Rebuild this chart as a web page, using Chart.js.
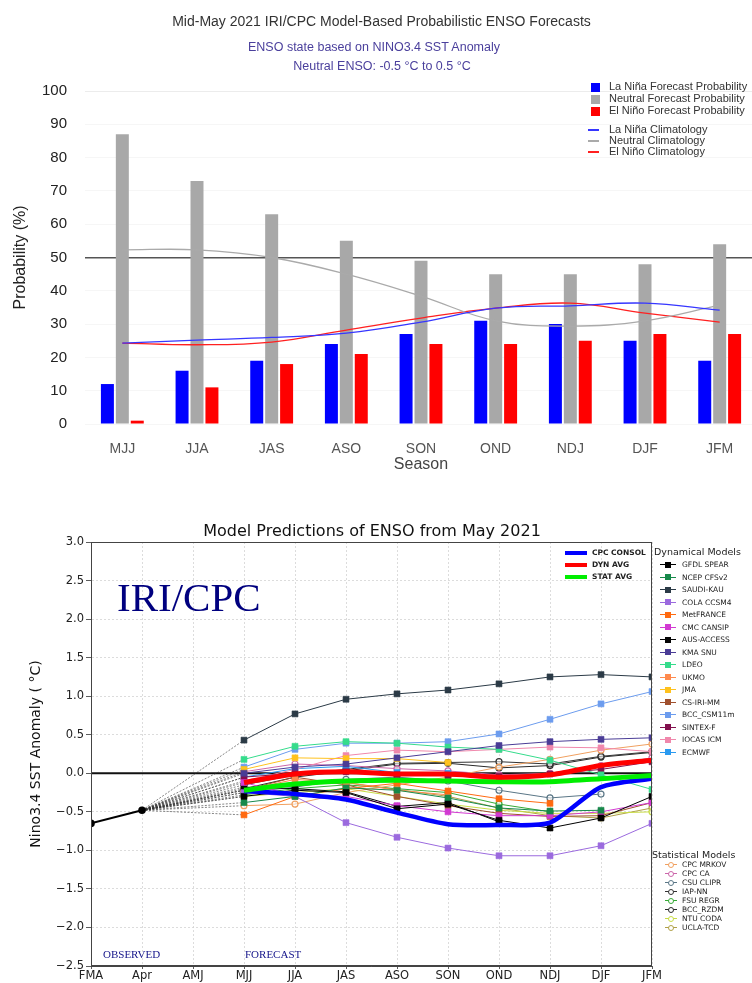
<!DOCTYPE html>
<html>
<head>
<meta charset="utf-8">
<script src="https://cdn.jsdelivr.net/npm/chart.js@4.4.0/dist/chart.umd.min.js"></script>
<style>
  body { margin:0; width:752px; height:983px; overflow:hidden; background:#fff; position:relative; }
  .t { position:absolute; white-space:nowrap; }
  .top { font-family:'Liberation Sans',Arial,sans-serif; }
  .mpl { font-family:'DejaVu Sans',sans-serif; }
  .serif { font-family:'Liberation Serif','Times New Roman',serif; color:#14148a; }
  .leg-row { position:absolute; height:10px; }
  .leg-line { position:absolute; top:4px; height:1.4px; }
  .leg-sq { position:absolute; width:6px; height:6px; top:1.7px; }
  .leg-ci { position:absolute; width:4.5px; height:4.5px; top:1.5px; border-radius:50%; border:1.2px solid; background:#fff; }
</style>
</head>
<body>
<div id="top-wrap" style="position:absolute;left:0;top:0;width:758px;height:480px"><canvas id="prob-canvas" width="758" height="480"></canvas></div>
<div id="bot-wrap" style="position:absolute;left:0;top:505px;width:752px;height:478px"><canvas id="model-canvas" width="752" height="478"></canvas></div>

<div class="t top" style="left:0;width:763px;text-align:center;top:13px;font-size:14px;color:#333">Mid-May 2021 IRI/CPC Model-Based Probabilistic ENSO Forecasts</div>
<div class="t top" style="left:0;width:748px;text-align:center;top:40px;font-size:12.5px;color:#4a3f9c">ENSO state based on NINO3.4 SST Anomaly</div>
<div class="t top" style="left:0;width:764px;text-align:center;top:59px;font-size:12.5px;color:#4a3f9c">Neutral ENSO: -0.5 °C to 0.5 °C</div>

<div id="prob-legend" class="top"></div>

<div class="t mpl" style="left:0;width:744px;text-align:center;top:521px;font-size:16px;color:#111">Model Predictions of ENSO from May 2021</div>
<div class="t serif" style="left:117px;top:573px;font-size:41px;color:#00007f">IRI/CPC</div>
<div class="t serif" style="left:103px;top:948px;font-size:11px">OBSERVED</div>
<div class="t serif" style="left:245px;top:948px;font-size:11px">FORECAST</div>

<div id="avg-legend" class="mpl"></div>
<div id="dyn-legend" class="mpl"></div>
<div id="stat-legend" class="mpl"></div>

<script>
// ---- top panel: probabilities (%) ----
const seasons = ['MJJ','JJA','JAS','ASO','SON','OND','NDJ','DJF','JFM'];
const laNinaProb  = [12, 16, 19, 24, 27, 31, 30, 25, 19];
const neutralProb = [87, 73, 63, 55, 49, 45, 45, 48, 54];
const elNinoProb  = [ 1, 11, 18, 21, 24, 24, 25, 27, 27];
const laNinaClim  = [24.3, 25.2, 26.0, 27.3, 30.6, 34.8, 35.5, 36.3, 34.2];
const neutralClim = [52.3, 52.3, 50.0, 45.0, 38.4, 31.0, 29.4, 31.0, 35.7];
const elNinoClim  = [24.3, 23.8, 24.6, 28.2, 31.8, 34.8, 36.3, 33.3, 30.6];

// ---- bottom panel: Nino3.4 anomaly (deg C) ----
const months = ['FMA','Apr','AMJ','MJJ','JJA','JAS','ASO','SON','OND','NDJ','DJF','JFM'];
const observed = [-0.65, -0.48];
const firstForecast = 3; // MJJ

const gfdlSpear = [-0.30, -0.22, -0.25, -0.46, -0.40, -0.61, -0.71, -0.58, -0.30];
const ncepCfsv2 = [-0.38, -0.30, -0.19, -0.22, -0.32, -0.45, -0.49, -0.48, null];
const saudiKau  = [ 0.43,  0.77,  0.96,  1.03,  1.08,  1.16,  1.25,  1.28,  1.25];
const colaCcsm4 = [-0.25, -0.30, -0.64, -0.83, -0.97, -1.07, -1.07, -0.94, -0.65];
const metFrance = [-0.54, -0.30, -0.20, -0.13, -0.23, -0.33, -0.39, null, null];
const cmcCansip = [-0.12, -0.29, -0.30, -0.42, -0.50, -0.55, -0.55, -0.50, -0.38];
const ausAccess = [-0.18, -0.20, -0.24, -0.43, -0.38, -0.63, null, null, null];
const kmaSnu    = [ 0.00,  0.08,  0.12,  0.20,  0.28,  0.36,  0.41,  0.44,  0.46];
const ldeo      = [ 0.18,  0.35,  0.41,  0.39,  0.34,  0.31,  0.17, -0.02, -0.21];
const ukmo      = [-0.22, -0.08, -0.12, -0.22, -0.28, null, null, null, null];
const jma       = [ 0.05,  0.20,  0.19,  0.19,  0.14, null, null, null, null];
const csIriMm   = [-0.22, -0.05, -0.15, -0.30, -0.42, -0.52, -0.56, -0.55, -0.38];
const bccCsm11m = [ 0.08,  0.31,  0.39,  0.39,  0.41,  0.51,  0.70,  0.90,  1.06];
const sintexF   = [-0.05,  0.00,  0.02, -0.02, -0.03, -0.04, -0.01,  0.05,  0.15];
const iocasIcm  = [-0.10,  0.05,  0.23,  0.30,  0.28,  0.31,  0.34,  0.33,  0.28];
const ecmwf     = [-0.05,  0.06,  0.09,  0.01,  0.00, null, null, null, null];

const cpcMrkov  = [-0.42, -0.40, -0.25, -0.15, -0.05,  0.08,  0.18,  0.30,  0.38];
const cpcCa     = [ 0.02,  0.12,  0.10,  0.06,  0.03, -0.02,  0.00,  0.10,  0.20];
const csuClipr  = [-0.25, -0.18, -0.08, -0.05, -0.10, -0.22, -0.32, -0.27, null];
const iapNn     = [-0.15, -0.02,  0.05,  0.13,  0.14,  0.15,  0.12,  0.22,  0.28];
const fsuRegr   = [-0.28, -0.20, -0.15, -0.20, -0.25, -0.40, -0.50, null, null];
const bccRzdm   = [-0.20, -0.05,  0.03,  0.12,  0.13,  0.07,  0.10,  0.21,  0.27];
const ntuCoda   = [-0.30, -0.25, -0.20, -0.30, -0.40, -0.48, -0.52, -0.52, -0.50];
const uclaTcd   = [-0.22, -0.15, -0.12, -0.21, -0.30, -0.45, -0.55, -0.58, -0.45];

const cpcConsol = [-0.23, -0.27, -0.34, -0.51, -0.66, -0.67, -0.64, -0.18, -0.07];
const dynAvg    = [-0.12, -0.01,  0.02, -0.01, -0.01, -0.05, -0.02,  0.10,  0.17];
const statAvg   = [-0.22, -0.14, -0.10, -0.09, -0.10, -0.11, -0.11, -0.07, -0.03];

const dynNames = ['GFDL SPEAR','NCEP CFSv2','SAUDI-KAU','COLA CCSM4','MetFRANCE','CMC CANSIP','AUS-ACCESS','KMA SNU','LDEO','UKMO','JMA','CS-IRI-MM','BCC_CSM11m','SINTEX-F','IOCAS ICM','ECMWF'];
const dynValues = [gfdlSpear,ncepCfsv2,saudiKau,colaCcsm4,metFrance,cmcCansip,ausAccess,kmaSnu,ldeo,ukmo,jma,csIriMm,bccCsm11m,sintexF,iocasIcm,ecmwf];
const statNames = ['CPC MRKOV','CPC CA','CSU CLIPR','IAP-NN','FSU REGR','BCC_RZDM','NTU CODA','UCLA-TCD'];
const statValues = [cpcMrkov,cpcCa,csuClipr,iapNn,fsuRegr,bccRzdm,ntuCoda,uclaTcd];
const avgNames = ['CPC CONSOL','DYN AVG','STAT AVG'];
const avgValues = [cpcConsol, dynAvg, statAvg];

// styles
const dynColors = ['#000000','#17894a','#2b3a46','#9b6ade','#ff6a10','#d23ad2','#050505','#4a3c96','#35dc8c','#ff8a4e','#ffc21e','#a0502e','#6c9cee','#82104e','#f088ac','#2a9af0'];
const statColors = ['#f0a060','#cc66aa','#5a7686','#333333','#36aa36','#2a2a2a','#c8dc46','#b0a048'];
const avgColors = ['#0000ff','#ff0000','#00ee00'];

// ================= top chart =================
const probCtx = document.getElementById('prob-canvas').getContext('2d');
const barStyle = { categoryPercentage:0.6, barPercentage:0.87, order:1 };
const climStyle = { type:'line', pointRadius:0, borderWidth:1.3, tension:0.4, fill:false, order:0 };
new Chart(probCtx, {
  type:'bar',
  data:{ labels:seasons, datasets:[
    {...climStyle, label:'La Niña Climatology', data:laNinaClim, borderColor:'#3636ff'},
    {...climStyle, label:'Neutral Climatology', data:neutralClim, borderColor:'#aaaaaa'},
    {...climStyle, label:'El Niño Climatology', data:elNinoClim, borderColor:'#ff2020'},
    {...barStyle, label:'La Niña Forecast Probability', data:laNinaProb, backgroundColor:'#0000ff'},
    {...barStyle, label:'Neutral Forecast Probability', data:neutralProb, backgroundColor:'#a8a8a8'},
    {...barStyle, label:'El Niño Forecast Probability', data:elNinoProb, backgroundColor:'#ff0000'}
  ]},
  options:{ responsive:false, animation:false,
    layout:{ padding:{ top:91, right:1, left:0, bottom:0 } },
    plugins:{ legend:{display:false}, tooltip:{enabled:false} },
    scales:{
      x:{ grid:{display:false}, border:{display:false},
          ticks:{ color:'#555', font:{family:'Liberation Sans', size:14}, padding:9 },
          title:{ display:true, text:'Season', color:'#444', font:{family:'Liberation Sans', size:16}, padding:{top:2, bottom:6} },
          afterFit:s=>{ s.height = 56; } },
      y:{ min:0, max:100, border:{display:false},
          ticks:{ stepSize:10, color:'#222', font:{family:'Liberation Sans', size:15}, padding:18 },
          grid:{ drawTicks:false, color:c=>c.tick.value===50?'#555':(c.tick.value===100?'#ececec':'#f6f6f6'), lineWidth:c=>c.tick.value===50?1.6:1 },
          title:{ display:true, text:'Probability (%)', color:'#222', font:{family:'Liberation Sans', size:16}, padding:{top:11} },
          afterFit:s=>{ s.width = 85; } }
    }
  }
});

// legend for the top chart
(function(){
  const box = document.getElementById('prob-legend');
  const barItems = [['La Niña Forecast Probability','#0000ff'],['Neutral Forecast Probability','#a8a8a8'],['El Niño Forecast Probability','#ff0000']];
  const lineItems = [['La Niña Climatology','#3636ff'],['Neutral Climatology','#aaaaaa'],['El Niño Climatology','#ff2020']];
  barItems.forEach((it,i)=>{
    const y = 87 + i*12;
    box.insertAdjacentHTML('beforeend',
      `<div class="t" style="left:591px;top:${y-4.5}px;width:9px;height:9px;background:${it[1]}"></div>`+
      `<div class="t" style="left:609px;top:${y-7}px;font-size:11px;color:#333">${it[0]}</div>`);
  });
  lineItems.forEach((it,i)=>{
    const y = 130 + i*11;
    box.insertAdjacentHTML('beforeend',
      `<div class="t" style="left:588px;top:${y-0.6}px;width:11px;height:1.3px;background:${it[1]}"></div>`+
      `<div class="t" style="left:609px;top:${y-7}px;font-size:11px;color:#333">${it[0]}</div>`);
  });
})();

// ================= bottom chart =================
const modelCtx = document.getElementById('model-canvas').getContext('2d');

function withApr(values) {
  const pts = [{x:1, y:observed[1]}];
  values.forEach((v,i)=>pts.push({x:firstForecast+i, y:v}));
  return pts;
}
function forecastOnly(values) {
  return values.map((v,i)=>({x:firstForecast+i, y:v}));
}
const connector = {
  borderColor:c=>c.p0DataIndex===0?'#333':undefined,
  borderDash:c=>c.p0DataIndex===0?[2,1.5]:undefined,
  borderWidth:c=>c.p0DataIndex===0?0.6:undefined
};

const modelSets = [];
avgValues.forEach((vals,i)=>modelSets.push({
  label:avgNames[i], data:forecastOnly(vals), borderColor:avgColors[i], borderWidth:i===0?4.5:5,
  pointRadius:0, tension:0.25, order:i===0?1:0
}));
modelSets.push({ label:'Observed', data:observed.map((v,i)=>({x:i, y:v})), borderColor:'#000', backgroundColor:'#000',
  borderWidth:2, pointRadius:2.8, order:0 });
dynValues.forEach((vals,i)=>modelSets.push({
  label:dynNames[i], data:withApr(vals), borderColor:dynColors[i], backgroundColor:dynColors[i],
  borderWidth:1, pointStyle:'rect', pointRadius:c=>c.dataIndex===0?0:4.2, pointBorderWidth:0.6,
  pointBorderColor:dynColors[i], segment:connector, tension:0, order:2
}));
statValues.forEach((vals,i)=>modelSets.push({
  label:statNames[i], data:withApr(vals), borderColor:statColors[i], backgroundColor:'rgba(255,255,255,0.5)',
  borderWidth:1, pointStyle:'circle', pointRadius:c=>c.dataIndex===0?0:3, pointBorderWidth:1.2,
  pointBorderColor:statColors[i], segment:connector, tension:0, order:3
}));

const frame = {
  id:'frame',
  beforeDatasetsDraw(chart){
    const {ctx, chartArea:a, scales:{y}} = chart;
    const y0 = y.getPixelForValue(0);
    ctx.save(); ctx.strokeStyle='#111'; ctx.lineWidth=1.8;
    ctx.beginPath(); ctx.moveTo(a.left,y0); ctx.lineTo(a.right,y0); ctx.stroke(); ctx.restore();
  },
  afterDatasetsDraw(chart){
    const {ctx, chartArea:a} = chart;
    ctx.save(); ctx.strokeStyle='#444'; ctx.lineWidth=1;
    ctx.strokeRect(a.left+0.5, a.top+0.5, a.width-1, a.height-1); ctx.restore();
  }
};

new Chart(modelCtx, {
  type:'line',
  data:{ datasets:modelSets },
  options:{ responsive:false, animation:false,
    layout:{ padding:{ top:37, right:100, left:0, bottom:0 } },
    plugins:{ legend:{display:false}, tooltip:{enabled:false} },
    scales:{
      x:{ type:'linear', min:0, max:months.length-1,
          ticks:{ stepSize:1, autoSkip:false, maxRotation:0, padding:0, color:'#222',
                  font:{family:'DejaVu Sans', size:11.5}, callback:v=>months[v] },
          grid:{ color:'#d4d4d4', lineWidth:0.8, tickLength:3, tickColor:'#333' },
          border:{ dash:[2,2], color:'#444' },
          afterFit:s=>{ s.height = 17; } },
      y:{ min:-2.5, max:3.0,
          ticks:{ stepSize:0.5, padding:2, color:'#222', font:{family:'DejaVu Sans', size:11.5},
                  callback:v=>(v<0?'\u2212':'')+Math.abs(v).toFixed(1) },
          grid:{ color:'#d4d4d4', lineWidth:0.8, tickLength:5, tickColor:'#333' },
          border:{ dash:[2,2], color:'#444' },
          title:{ display:true, text:'Nino3.4 SST Anomaly ( \u00B0C)', color:'#111', font:{family:'DejaVu Sans', size:14}, padding:{top:28} },
          afterFit:s=>{ s.width = 91; } }
    }
  },
  plugins:[frame]
});

// legends for the bottom chart
(function(){
  const avgBox = document.getElementById('avg-legend');
  avgNames.forEach((n,i)=>{
    const y = 553 + i*12;
    avgBox.insertAdjacentHTML('beforeend',
      `<div class="t" style="left:565px;top:${y-2}px;width:22px;height:4px;background:${avgColors[i]}"></div>`+
      `<div class="t" style="left:592px;top:${y-5}px;font-size:7.5px;font-weight:bold;color:#222">${n}</div>`);
  });
  const dynBox = document.getElementById('dyn-legend');
  dynBox.insertAdjacentHTML('beforeend', `<div class="t" style="left:654px;top:546px;font-size:9.5px;color:#222">Dynamical Models</div>`);
  dynNames.forEach((n,i)=>{
    const y = 565 + i*12.5;
    dynBox.insertAdjacentHTML('beforeend',
      `<div class="leg-row" style="left:660px;top:${y-5}px;width:90px">`+
      `<div class="leg-line" style="left:0;width:16px;background:${dynColors[i]}"></div>`+
      `<div class="leg-sq" style="left:5px;background:${dynColors[i]}"></div>`+
      `<div class="t" style="left:22px;top:0;font-size:7.5px;color:#222">${n}</div></div>`);
  });
  const statBox = document.getElementById('stat-legend');
  statBox.insertAdjacentHTML('beforeend', `<div class="t" style="left:652px;top:849px;font-size:9.5px;color:#222">Statistical Models</div>`);
  statNames.forEach((n,i)=>{
    const y = 865 + i*9;
    statBox.insertAdjacentHTML('beforeend',
      `<div class="leg-row" style="left:665px;top:${y-5}px;width:90px">`+
      `<div class="leg-line" style="left:0;width:12px;background:${statColors[i]}"></div>`+
      `<div class="leg-ci" style="left:2.5px;border-color:${statColors[i]}"></div>`+
      `<div class="t" style="left:17px;top:0;font-size:7.5px;color:#222">${n}</div></div>`);
  });
})();
</script>
</body>
</html>
